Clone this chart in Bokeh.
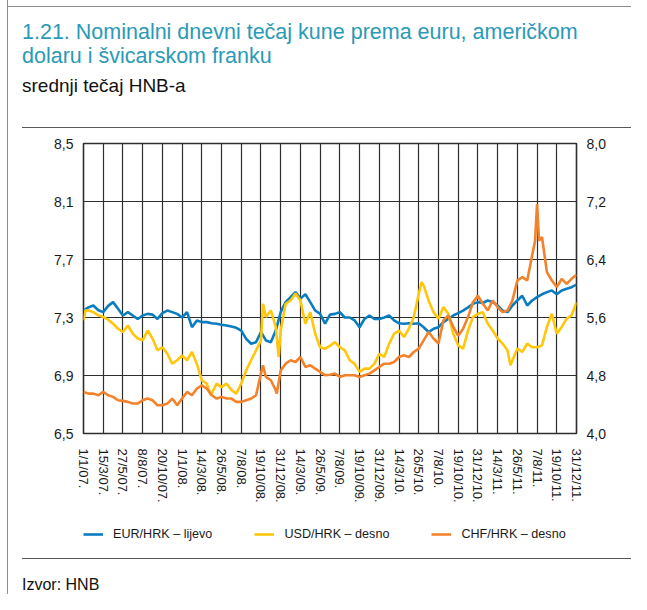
from bokeh.plotting import figure
from bokeh.layouts import column
from bokeh.models import (Range1d, LinearAxis, FixedTicker, Legend, LegendItem, Div)
from bokeh.embed import file_html
from bokeh.resources import INLINE

# ---------------- data ----------------
tick_labels = ["1/1/07.", "15/3/07.", "27/5/07.", "8/8/07.", "20/10/07.", "1/1/08.",
               "14/3/08.", "26/5/08.", "7/8/08.", "19/10/08.", "31/12/08.", "14/3/09.",
               "26/5/09.", "7/8/09.", "19/10/09.", "31/12/09.", "14/3/10.", "26/5/10.",
               "7/8/10.", "19/10/10.", "31/12/10.", "14/3/11.", "26/5/11.", "7/8/11.",
               "19/10/11.", "31/12/11."]
tick_step_days = 73

# sample positions in tick units (quarter of a tick interval)
t_grid = [i * 0.25 for i in range(101)]

eur = [7.348, 7.370, 7.383, 7.350, 7.337, 7.380, 7.406, 7.360, 7.314, 7.337,
       7.314, 7.290, 7.314, 7.325, 7.320, 7.290, 7.330, 7.348, 7.337, 7.325,
       7.300, 7.337, 7.233, 7.280, 7.268, 7.268, 7.260, 7.257, 7.250, 7.245,
       7.238, 7.229, 7.210, 7.153, 7.119, 7.130, 7.200, 7.142, 7.130, 7.210,
       7.337, 7.406, 7.440, 7.475, 7.430, 7.460, 7.406, 7.348, 7.325, 7.257,
       7.320, 7.325, 7.337, 7.300, 7.300, 7.280, 7.233, 7.290, 7.314, 7.290,
       7.290, 7.300, 7.314, 7.280, 7.260, 7.257, 7.260, 7.257, 7.260, 7.233,
       7.200, 7.222, 7.233, 7.268, 7.290, 7.314, 7.330, 7.348, 7.370, 7.394,
       7.406, 7.400, 7.417, 7.406, 7.383, 7.348, 7.337, 7.383, 7.417, 7.450,
       7.383, 7.417, 7.440, 7.460, 7.475, 7.486, 7.460, 7.486, 7.498, 7.509,
       7.527]

usd = [5.560, 5.697, 5.674, 5.630, 5.606, 5.570, 5.514, 5.445, 5.400, 5.490,
       5.376, 5.310, 5.285, 5.420, 5.310, 5.147, 5.190, 5.100, 4.963, 5.010,
       5.078, 5.010, 5.124, 4.960, 4.734, 4.690, 4.550, 4.690, 4.640, 4.690,
       4.600, 4.550, 4.690, 4.870, 5.010, 5.147, 5.280, 5.606, 5.697, 5.470,
       5.420, 5.790, 5.835, 5.930, 5.835, 5.514, 5.674, 5.376, 5.190, 5.170,
       5.210, 5.260, 5.190, 5.147, 5.010, 4.960, 4.850, 4.895, 4.895, 4.960,
       5.100, 5.055, 5.240, 5.376, 5.420, 5.330, 5.445, 5.606, 5.927, 6.040,
       5.835, 5.674, 5.583, 5.743, 5.651, 5.376, 5.216, 5.170, 5.420, 5.606,
       5.651, 5.674, 5.514, 5.420, 5.310, 5.240, 5.147, 5.010, 5.170, 5.124,
       5.240, 5.190, 5.190, 5.216, 5.470, 5.651, 5.376, 5.470, 5.583, 5.630,
       5.810]

chf = [4.573, 4.550, 4.550, 4.528, 4.573, 4.528, 4.505, 4.459, 4.450, 4.436,
       4.413, 4.413, 4.459, 4.482, 4.459, 4.390, 4.390, 4.413, 4.482, 4.390,
       4.482, 4.573, 4.528, 4.620, 4.665, 4.620, 4.528, 4.482, 4.505, 4.482,
       4.482, 4.436, 4.436, 4.459, 4.482, 4.528, 4.826, 4.780, 4.734, 4.596,
       4.870, 4.963, 5.010, 4.986, 5.055, 4.918, 4.940, 4.895, 4.850, 4.803,
       4.810, 4.826, 4.780, 4.803, 4.803, 4.803, 4.780, 4.803, 4.826, 4.870,
       4.918, 4.963, 4.963, 4.986, 5.055, 5.078, 5.055, 5.124, 5.170, 5.285,
       5.400, 5.310, 5.240, 5.560, 5.630, 5.470, 5.350, 5.445, 5.606, 5.810,
       5.900, 5.790, 5.697, 5.835, 5.743, 5.674, 5.697, 5.835, 6.110, 6.156,
       6.110, 6.454, 7.165, 6.710, 6.225, 6.110, 6.020, 6.133, 6.064, 6.133,
       6.190]

# extra readings at sharp peaks / troughs (tick units, value)
usd_extra_t = [0.10, 6.45, 9.10, 9.90, 17.15, 21.65]
usd_extra_v = [5.700, 4.530, 5.790, 5.055, 6.087, 4.940]
chf_extra_t = [9.10, 9.80, 22.90, 23.10]
chf_extra_v = [4.940, 4.550, 6.660, 6.660]

left_ticks = [6.5, 6.9, 7.3, 7.7, 8.1, 8.5]
right_ticks = [4.0, 4.8, 5.6, 6.4, 7.2, 8.0]

series_names = ["EUR/HRK – lijevo", "USD/HRK – desno", "CHF/HRK – desno"]
series_colors = ["#0a7dc0", "#ffc60a", "#f4822a"]

title_lines = ["1.21. Nominalni dnevni tečaj kune prema euru, američkom",
               "dolaru i švicarskom franku"]
subtitle = "srednji tečaj HNB-a"
source = "Izvor: HNB"

# ---------------- helpers ----------------
def merge(ts, vs, ets=(), evs=()):
    pts = sorted(list(zip(ts, vs)) + list(zip(ets, evs)))
    return [t * tick_step_days for t, _ in pts], [v for _, v in pts]

FONT = "Liberation Sans"
TEAL = "#2a9ab7"
W = 631
n_ticks = len(tick_labels)
x_ticks = [i * tick_step_days for i in range(n_ticks)]

def fmt(v):
    return f"{v:.1f}".replace(".", ",")

def style_axis(ax, size, standoff):
    ax.axis_line_color = None
    ax.major_tick_line_color = None
    ax.minor_tick_line_color = None
    ax.major_tick_out = 0
    ax.major_tick_in = 0
    ax.major_label_standoff = standoff
    ax.major_label_text_font = FONT
    ax.major_label_text_font_size = size
    ax.major_label_text_color = "#1a1a1a"

# ---------------- main figure ----------------
FIG_TOP = 130     # page y where the figure starts
FIG_H = 380       # ends at 510
p = figure(width=W, height=FIG_H,
           x_range=Range1d(0, x_ticks[-1]), y_range=Range1d(left_ticks[0], left_ticks[-1]),
           output_backend="svg", toolbar_location=None,
           min_border_left=83, min_border_right=W - 576, min_border_top=143 - FIG_TOP,
           min_border_bottom=FIG_TOP + FIG_H - 433,
           background_fill_color="white", border_fill_alpha=0.0, margin=0)
p.extra_y_ranges = {"right": Range1d(right_ticks[0], right_ticks[-1])}

xa = p.xaxis[0]
xa.ticker = FixedTicker(ticks=x_ticks)
xa.major_label_overrides = {x: lab for x, lab in zip(x_ticks, tick_labels)}
xa.major_label_orientation = "vertical"
style_axis(xa, "13px", 15)

ya = p.yaxis[0]
ya.ticker = FixedTicker(ticks=left_ticks)
ya.major_label_overrides = {v: fmt(v) for v in left_ticks}
style_axis(ya, "14px", 10)

ra = LinearAxis(y_range_name="right", ticker=FixedTicker(ticks=right_ticks))
ra.major_label_overrides = {v: fmt(v) for v in right_ticks}
style_axis(ra, "14px", 10)
p.add_layout(ra, "right")

p.xgrid.ticker = FixedTicker(ticks=x_ticks)
p.ygrid.ticker = FixedTicker(ticks=left_ticks)
for g in (p.xgrid[0], p.ygrid[0]):
    g.grid_line_color = "#2e2e2e"
    g.grid_line_width = 1.2
    g.grid_line_alpha = 1.0
p.outline_line_color = "#2e2e2e"
p.outline_line_width = 1.6
p.outline_line_alpha = 1.0

xe, ye = merge(t_grid, eur)
xu, yu = merge(t_grid, usd, usd_extra_t, usd_extra_v)
xc, yc = merge(t_grid, chf, chf_extra_t, chf_extra_v)

LW = 2.6
p.line(xe, ye, line_color=series_colors[0], line_width=LW)
p.line(xu, yu, line_color=series_colors[1], line_width=LW, y_range_name="right")
p.line(xc, yc, line_color=series_colors[2], line_width=LW, y_range_name="right")

# ---------------- legend strip (own small figure, 510..550) ----------------
LEG_H = 40
pl = figure(width=W, height=LEG_H, x_range=Range1d(0, 1), y_range=Range1d(0, 1),
            output_backend="svg", toolbar_location=None,
            min_border_left=83, min_border_right=W - 576, min_border_top=0, min_border_bottom=0,
            background_fill_alpha=0.0, border_fill_alpha=0.0, margin=0)
pl.axis.visible = False
pl.grid.visible = False
pl.outline_line_color = None
# key lines of the legend (their own points lie outside the strip's view)
leg_renderers = [pl.line(x=[-2, -1], y=[-2, -2], line_color=c, line_width=LW)
                 for c in series_colors]
legend = Legend(items=[LegendItem(label=n, renderers=[r])
                       for n, r in zip(series_names, leg_renderers)],
                orientation="horizontal", location=(0, 6),
                spacing=42, glyph_width=20, glyph_height=20, label_standoff=10,
                label_height=20, padding=0, margin=0, border_line_color=None,
                background_fill_alpha=0,
                label_text_font=FONT, label_text_font_size="12.6px",
                label_text_color="#1a1a1a")
pl.add_layout(legend)

# ---------------- header / footer ----------------
FRAME = "#8c8c8c"
RULE = "#585858"

def abs_line(left, top, width, height, color):
    return (f'<div style="position:absolute;left:{left}px;top:{top}px;width:{width}px;'
            f'height:{height}px;background:{color}"></div>')

header_html = (
    f'<div style="position:relative;width:{W}px;height:{FIG_TOP}px;font-family:\'{FONT}\';">'
    + abs_line(7, 6, W - 7, 1, FRAME)
    + abs_line(7, 6, 1, FIG_TOP - 6, FRAME)
    + f'<div style="position:absolute;left:22px;top:20px;color:{TEAL};font-size:21.5px;'
      f'line-height:24px;white-space:nowrap">{title_lines[0]}<br>{title_lines[1]}</div>'
    + f'<div style="position:absolute;left:22px;top:75px;color:#111;font-size:19px;'
      f'line-height:21px;white-space:nowrap">{subtitle}</div>'
    + abs_line(22, 127, W - 22, 1, RULE)
    + '</div>')
header = Div(text=header_html, width=W, height=FIG_TOP, margin=0)

FOOT_TOP = FIG_TOP + FIG_H + LEG_H
FOOT_H = 594 - FOOT_TOP
footer_html = (
    f'<div style="position:relative;width:{W}px;height:{FOOT_H}px;font-family:\'{FONT}\';">'
    + abs_line(7, 0, 1, FOOT_H, FRAME)
    + abs_line(22, 558 - FOOT_TOP, W - 22, 1, RULE)
    + f'<div style="position:absolute;left:22px;top:26px;color:#111;font-size:16px;'
      f'line-height:17px;white-space:nowrap">{source}</div>'
    + '</div>')
footer = Div(text=footer_html, width=W, height=FOOT_H, margin=0)

bg = f"linear-gradient({FRAME},{FRAME}) 7px 0px / 1px 594px no-repeat"
layout = column(header, p, pl, footer, spacing=0, margin=0,
                styles={"background": bg, "background-color": "white"})

open("out.html", "w").write(file_html(layout, INLINE))
